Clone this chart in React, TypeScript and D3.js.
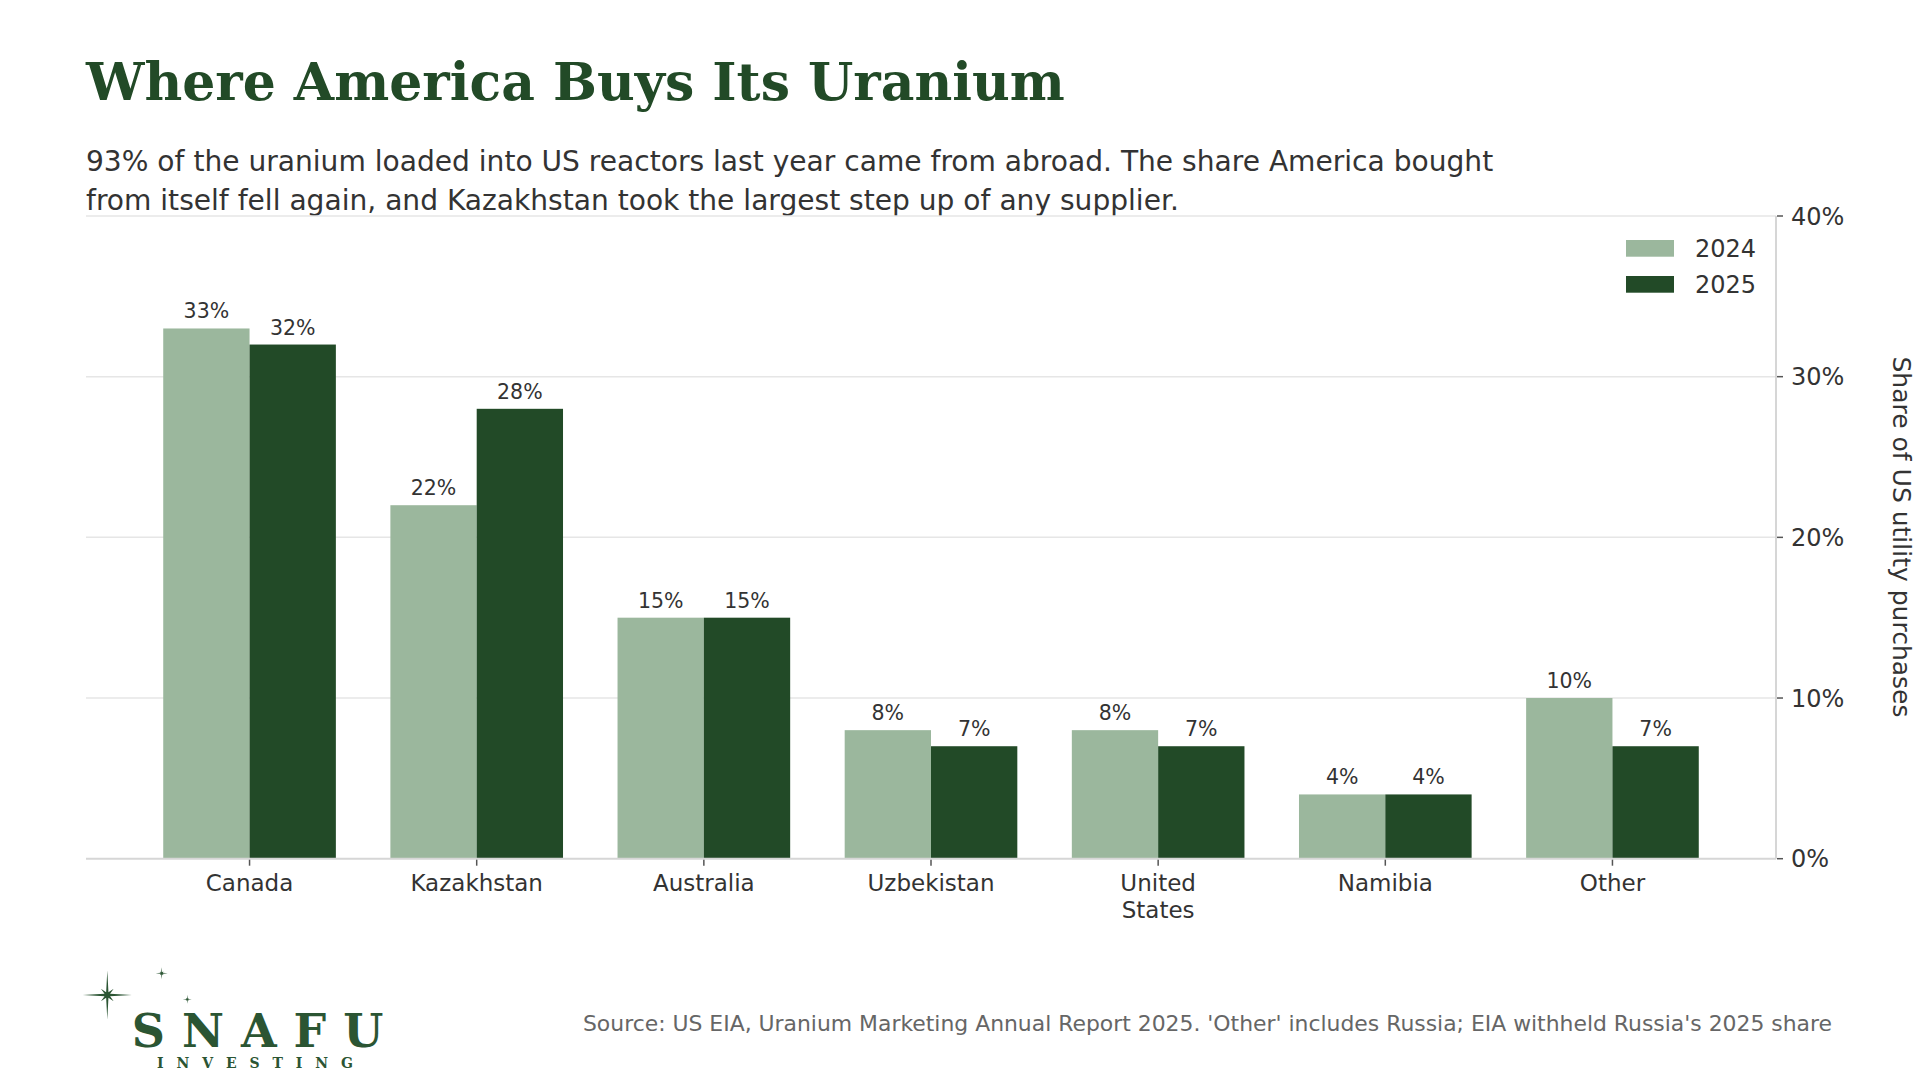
import React from "react";
import * as d3 from "d3";

const categories = ["Canada", "Kazakhstan", "Australia", "Uzbekistan", "United\nStates", "Namibia", "Other"];
const values2024 = [33, 22, 15, 8, 8, 4, 10];
const values2025 = [32, 28, 15, 7, 7, 4, 7];
const seriesNames = ["2024", "2025"];
const yTicks = [0, 10, 20, 30, 40];

const W = 1920;
const H = 1080;
const C24 = "#9bb79d";
const C25 = "#224a27";
const TEXT = "#333333";

function starPath(cx: number, cy: number, rLong: number, rShort: number, rInner: number) {
  const pts: string[] = [];
  for (let k = 0; k < 16; k++) {
    const ang = (k * Math.PI) / 8 - Math.PI / 2;
    let r: number;
    if (k % 2 === 1) r = rInner;
    else if (k % 4 === 0) r = rLong;
    else r = rShort;
    pts.push(`${cx + r * Math.cos(ang)},${cy + r * Math.sin(ang)}`);
  }
  return "M" + pts.join("L") + "Z";
}

export default function App() {
  const x = d3.scaleLinear().domain([-0.72, 6.72]).range([86, 1776]);
  const y = d3.scaleLinear().domain([0, 40]).range([858.7, 216]);
  const bw = 0.38;
  const font = "'DejaVu Sans', sans-serif";
  const logoColor = "#2b5533";

  return (
    <svg
      width={W}
      height={H}
      viewBox={`0 0 ${W} ${H}`}
      style={{ position: "absolute", left: 0, top: 0, background: "#ffffff" }}
      fontFamily={font}
    >
      <rect x={0} y={0} width={W} height={H} fill="#ffffff" />
      <text x={86} y={100} fontFamily="'DejaVu Serif', serif" fontWeight="bold" fontSize={52} fill={C25}>
        Where America Buys Its Uranium
      </text>
      <text x={86} y={171} fontSize={28.1} fill={TEXT}>
        93% of the uranium loaded into US reactors last year came from abroad. The share America bought
      </text>
      <text x={86} y={209.5} fontSize={28.1} fill={TEXT}>
        from itself fell again, and Kazakhstan took the largest step up of any supplier.
      </text>

      {/* gridlines */}
      {yTicks.filter((t) => t > 0).map((t) => (
        <line key={"g" + t} x1={x(-0.72)} x2={x(6.72)} y1={y(t)} y2={y(t)} stroke="#e6e6e6" strokeWidth={1.5} />
      ))}

      {/* bars */}
      {categories.map((c, i) => (
        <g key={c}>
          <rect x={x(i - bw)} y={y(values2024[i])} width={x(i) - x(i - bw)} height={y(0) - y(values2024[i])} fill={C24} />
          <rect x={x(i)} y={y(values2025[i])} width={x(i + bw) - x(i)} height={y(0) - y(values2025[i])} fill={C25} />
          <text x={x(i - bw / 2)} y={y(values2024[i]) - 10} textAnchor="middle" fontSize={20.5} fill={TEXT}>
            {values2024[i]}%
          </text>
          <text x={x(i + bw / 2)} y={y(values2025[i]) - 10} textAnchor="middle" fontSize={20.5} fill={TEXT}>
            {values2025[i]}%
          </text>
        </g>
      ))}

      {/* axes */}
      <line x1={x(-0.72)} x2={x(6.72)} y1={y(0)} y2={y(0)} stroke="#d6d6d6" strokeWidth={2} />
      <line x1={x(6.72)} x2={x(6.72)} y1={y(0)} y2={y(40)} stroke="#d6d6d6" strokeWidth={2} />
      {categories.map((c, i) => (
        <g key={"t" + c}>
          <line x1={x(i)} x2={x(i)} y1={y(0) + 1} y2={y(0) + 7} stroke="#555" strokeWidth={1.5} />
          <text x={x(i)} y={891} textAnchor="middle" fontSize={23} fill={TEXT}>
            {c.split("\n").map((ln, j) => (
              <tspan key={j} x={x(i)} dy={j === 0 ? 0 : 27}>
                {ln}
              </tspan>
            ))}
          </text>
        </g>
      ))}
      {yTicks.map((t) => (
        <g key={"y" + t}>
          <line x1={x(6.72) + 1} x2={x(6.72) + 7} y1={y(t)} y2={y(t)} stroke="#555" strokeWidth={1.5} />
          <text x={1791} y={y(t)} dy="0.36em" fontSize={24} fill={TEXT}>
            {t}%
          </text>
        </g>
      ))}
      <text transform={`translate(1893,537) rotate(90)`} textAnchor="middle" fontSize={25} fill={TEXT}>
        Share of US utility purchases
      </text>

      {/* legend */}
      {seriesNames.map((s, k) => (
        <g key={s}>
          <rect x={1626} y={240 + k * 36} width={48} height={16.7} fill={k === 0 ? C24 : C25} />
          <text x={1695} y={257.3 + k * 36} fontSize={24} fill={TEXT}>
            {s}
          </text>
        </g>
      ))}

      {/* source */}
      <text x={1832} y={1031} textAnchor="end" fontSize={21.9} fill="#666666">
        Source: US EIA, Uranium Marketing Annual Report 2025. 'Other' includes Russia; EIA withheld Russia's 2025 share
      </text>

      {/* logo */}
      <path d={starPath(107.3, 995, 24.5, 9, 3)} fill={logoColor} />
      <path d={starPath(161.7, 973.3, 6, 2.5, 1.2)} fill={logoColor} />
      <path d={starPath(187.3, 999.3, 4.5, 2, 1)} fill={logoColor} />
      <text x={131.7} y={1046.7} textLength={251.6} lengthAdjust="spacing" fontFamily="'DejaVu Serif', serif" fontWeight="bold" fontSize={46} fill={logoColor}>
        SNAFU
      </text>
      <text x={157} y={1068} textLength={196} lengthAdjust="spacing" fontFamily="'DejaVu Serif', serif" fontWeight="bold" fontSize={14} fill={logoColor}>
        INVESTING
      </text>
    </svg>
  );
}
